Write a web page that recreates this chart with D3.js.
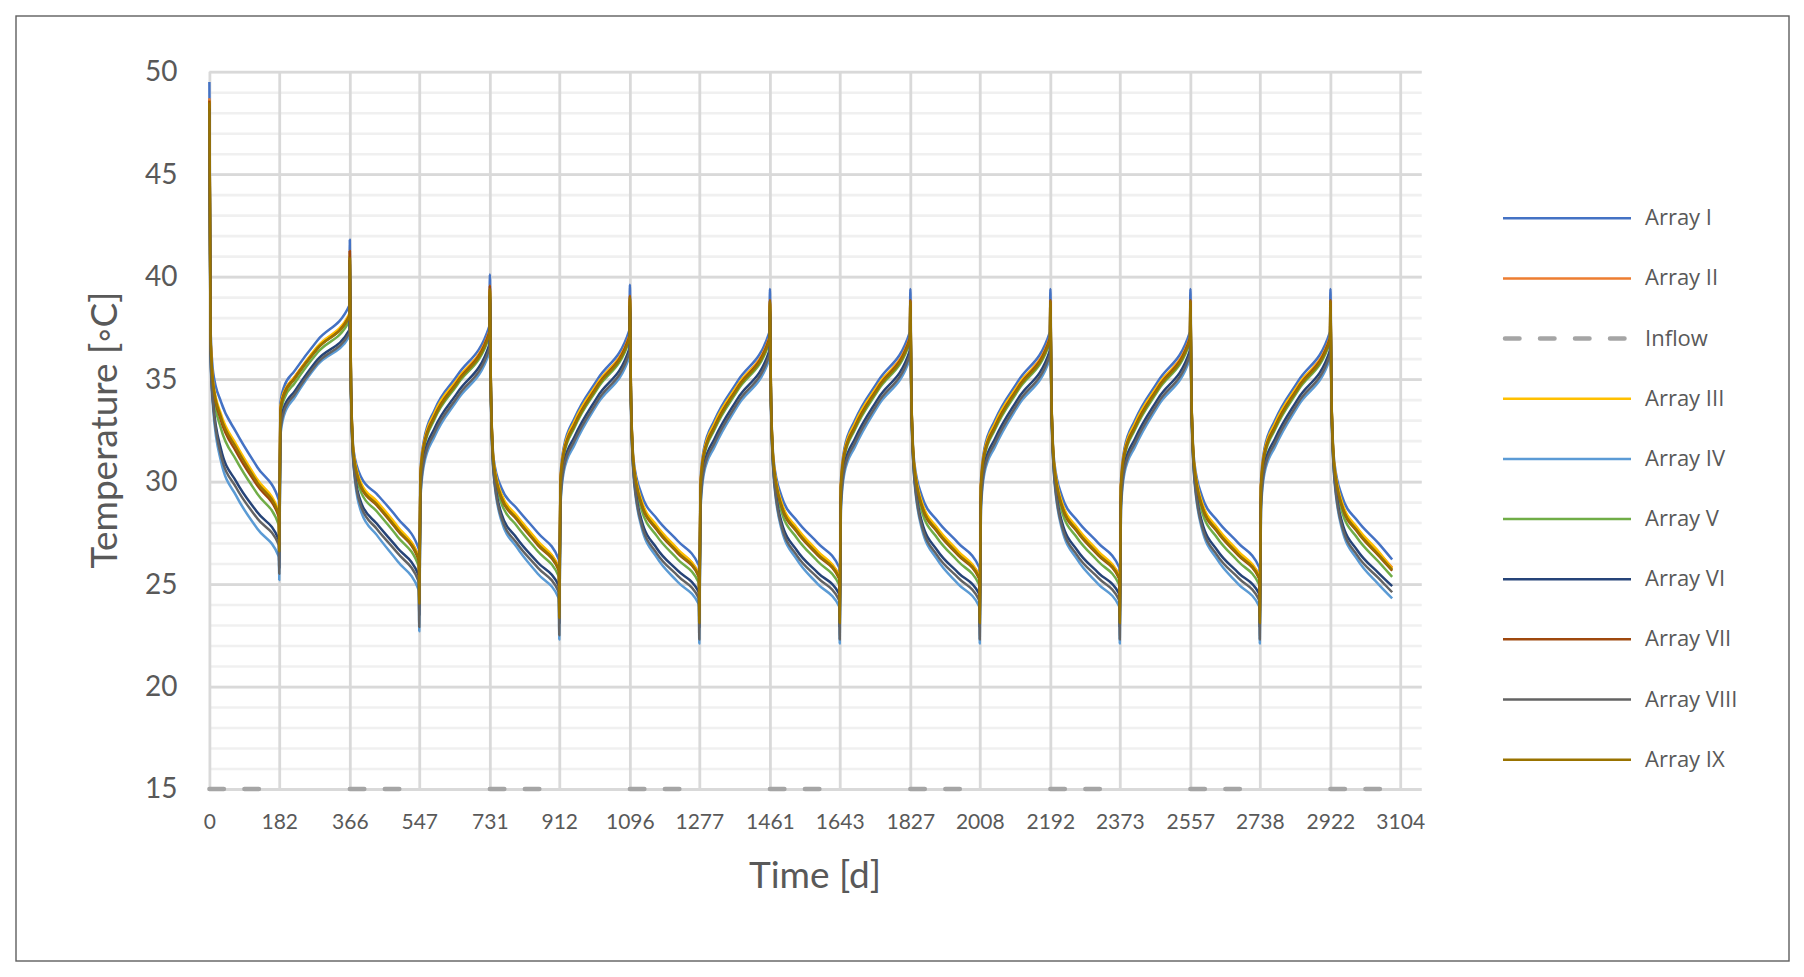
<!DOCTYPE html>
<html><head><meta charset="utf-8">
<script src="https://cdn.jsdelivr.net/npm/d3@7"></script>
<style>body{margin:0;background:#fff}</style>
</head><body><svg id="chart" width="1804" height="977"></svg>
<script>
// Day of each sample point (shared by all arrays)
const days = [0,3,10,30,70,125,181,
 182,185,194,222,282,365,
 366,369,376,396,436,491,546,
 547,550,559,587,647,730,
 731,734,741,761,801,856,911,
 912,915,924,952,1012,1095,
 1096,1099,1106,1126,1166,1221,1276,
 1277,1280,1289,1317,1377,1460,
 1461,1464,1471,1491,1531,1586,1642,
 1643,1646,1655,1683,1743,1826,
 1827,1830,1837,1857,1897,1952,2007,
 2008,2011,2020,2048,2108,2191,
 2192,2195,2202,2222,2262,2317,2372,
 2373,2376,2385,2413,2473,2556,
 2557,2560,2567,2587,2627,2682,2737,
 2738,2741,2750,2778,2838,2921,
 2922,2925,2932,2952,2992,3047,3083];

const arrayI = [49.5,37.5,35.3,33.9,32.4,30.7,29.1,
 27.5,33.8,34.6,35.4,36.9,38.6,
 41.8,34.8,31.5,30.2,29.4,28.2,26.7,
 24.6,30.5,32.0,33.5,35.2,37.6,
 40.1,34.3,31.1,29.7,28.7,27.5,26.2,
 24.2,30.2,31.7,33.1,35.0,37.4,
 39.6,34.1,31.0,29.4,28.2,27.1,25.9,
 24.0,30.0,31.6,33.0,34.9,37.3,
 39.4,34.0,31.0,29.3,28.1,27.0,25.8,
 24.0,30.0,31.6,33.0,34.9,37.3,
 39.4,34.0,31.0,29.3,28.1,27.0,25.8,
 24.0,30.0,31.6,33.0,34.9,37.3,
 39.4,34.0,31.0,29.3,28.1,27.0,25.8,
 24.0,30.0,31.6,33.0,34.9,37.3,
 39.4,34.0,31.0,29.3,28.1,27.0,25.8,
 24.0,30.0,31.6,33.0,34.9,37.3,
 39.4,34.0,31.0,29.3,28.1,27.0,26.2];

const arrayII = [48.7,37.1,34.7,33.2,31.7,30.0,28.45,
 27.1,33.5,34.3,35.1,36.55,38.15,
 41.25,34.7,31.3,29.85,29.0,27.75,26.3,
 24.3,30.3,31.8,33.3,35.0,37.35,
 39.55,34.2,30.9,29.35,28.3,27.05,25.8,
 23.9,30.0,31.5,32.9,34.8,37.15,
 39.05,34.0,30.8,29.05,27.8,26.65,25.5,
 23.7,29.8,31.4,32.8,34.7,37.05,
 38.85,33.9,30.8,28.95,27.7,26.55,25.4,
 23.7,29.8,31.4,32.8,34.7,37.05,
 38.85,33.9,30.8,28.95,27.7,26.55,25.4,
 23.7,29.8,31.4,32.8,34.7,37.05,
 38.85,33.9,30.8,28.95,27.7,26.55,25.4,
 23.7,29.8,31.4,32.8,34.7,37.05,
 38.85,33.9,30.8,28.95,27.7,26.55,25.4,
 23.7,29.8,31.4,32.8,34.7,37.05,
 38.85,33.9,30.8,28.95,27.7,26.55,25.8];

const arrayIII = [48.6,37.15,34.8,33.3,31.8,30.1,28.53,
 27.2,33.6,34.35,35.1,36.6,38.2,
 41.1,34.7,31.35,29.9,29.05,27.8,26.25,
 24.4,30.35,31.85,33.35,35.0,37.3,
 39.4,34.2,30.95,29.4,28.35,27.1,25.75,
 24.0,30.05,31.55,32.95,34.8,37.1,
 38.9,34.0,30.85,29.1,27.85,26.7,25.45,
 23.8,29.85,31.45,32.85,34.7,37.0,
 38.7,33.9,30.85,29.0,27.75,26.6,25.35,
 23.8,29.85,31.45,32.85,34.7,37.0,
 38.7,33.9,30.85,29.0,27.75,26.6,25.35,
 23.8,29.85,31.45,32.85,34.7,37.0,
 38.7,33.9,30.85,29.0,27.75,26.6,25.35,
 23.8,29.85,31.45,32.85,34.7,37.0,
 38.7,33.9,30.85,29.0,27.75,26.6,25.35,
 23.8,29.85,31.45,32.85,34.7,37.0,
 38.7,33.9,30.85,29.0,27.75,26.6,25.75];

const arrayIV = [48.0,36.0,33.5,31.0,29.3,27.7,26.33,
 25.2,32.2,33.2,34.1,35.7,37.1,
 40.4,34.4,30.7,28.5,27.4,26.1,24.7,
 22.7,29.1,30.8,32.2,34.0,36.3,
 38.7,33.9,30.3,28.1,26.8,25.5,24.3,
 22.3,28.8,30.5,31.8,33.8,36.1,
 38.2,33.7,30.2,27.8,26.3,25.1,24.0,
 22.1,28.6,30.4,31.7,33.7,36.0,
 38.0,33.6,30.2,27.7,26.2,25.0,23.9,
 22.1,28.6,30.4,31.7,33.7,36.0,
 38.0,33.6,30.2,27.7,26.2,25.0,23.9,
 22.1,28.6,30.4,31.7,33.7,36.0,
 38.0,33.6,30.2,27.7,26.2,25.0,23.9,
 22.1,28.6,30.4,31.7,33.7,36.0,
 38.0,33.6,30.2,27.7,26.2,25.0,23.9,
 22.1,28.6,30.4,31.7,33.7,36.0,
 38.0,33.6,30.2,27.7,26.2,25.0,24.3];

const arrayV = [48.4,36.8,34.3,32.6,31.05,29.4,27.88,
 26.6,33.2,34.0,34.8,36.3,37.85,
 41.0,34.6,31.1,29.45,28.55,27.3,25.85,
 24.0,30.1,31.6,33.05,34.75,37.1,
 39.3,34.1,30.7,28.95,27.85,26.6,25.35,
 23.6,29.8,31.3,32.65,34.55,36.9,
 38.8,33.9,30.6,28.65,27.35,26.2,25.05,
 23.4,29.6,31.2,32.55,34.45,36.8,
 38.6,33.8,30.6,28.55,27.25,26.1,24.95,
 23.4,29.6,31.2,32.55,34.45,36.8,
 38.6,33.8,30.6,28.55,27.25,26.1,24.95,
 23.4,29.6,31.2,32.55,34.45,36.8,
 38.6,33.8,30.6,28.55,27.25,26.1,24.95,
 23.4,29.6,31.2,32.55,34.45,36.8,
 38.6,33.8,30.6,28.55,27.25,26.1,24.95,
 23.4,29.6,31.2,32.55,34.45,36.8,
 38.6,33.8,30.6,28.55,27.25,26.1,25.35];

const arrayVI = [48.2,36.3,33.8,31.6,30.0,28.5,27.15,
 25.8,32.6,33.6,34.4,35.95,37.4,
 40.8,34.5,30.9,28.95,27.95,26.75,25.4,
 23.5,29.6,31.2,32.6,34.35,36.7,
 39.1,34.0,30.5,28.45,27.25,26.05,24.9,
 23.1,29.3,30.9,32.2,34.15,36.5,
 38.6,33.8,30.4,28.15,26.75,25.65,24.6,
 22.9,29.1,30.8,32.1,34.05,36.4,
 38.4,33.7,30.4,28.05,26.65,25.55,24.5,
 22.9,29.1,30.8,32.1,34.05,36.4,
 38.4,33.7,30.4,28.05,26.65,25.55,24.5,
 22.9,29.1,30.8,32.1,34.05,36.4,
 38.4,33.7,30.4,28.05,26.65,25.55,24.5,
 22.9,29.1,30.8,32.1,34.05,36.4,
 38.4,33.7,30.4,28.05,26.65,25.55,24.5,
 22.9,29.1,30.8,32.1,34.05,36.4,
 38.4,33.7,30.4,28.05,26.65,25.55,24.9];

const arrayVII = [48.6,37.0,34.6,33.0,31.45,29.8,28.28,
 26.9,33.45,34.25,35.05,36.5,38.1,
 41.25,34.65,31.2,29.7,28.85,27.6,26.15,
 24.2,30.25,31.75,33.2,34.9,37.3,
 39.55,34.15,30.8,29.2,28.15,26.9,25.65,
 23.8,29.95,31.45,32.8,34.7,37.1,
 39.05,33.95,30.7,28.9,27.65,26.5,25.35,
 23.6,29.75,31.35,32.7,34.6,37.0,
 38.85,33.85,30.7,28.8,27.55,26.4,25.25,
 23.6,29.75,31.35,32.7,34.6,37.0,
 38.85,33.85,30.7,28.8,27.55,26.4,25.25,
 23.6,29.75,31.35,32.7,34.6,37.0,
 38.85,33.85,30.7,28.8,27.55,26.4,25.25,
 23.6,29.75,31.35,32.7,34.6,37.0,
 38.85,33.85,30.7,28.8,27.55,26.4,25.25,
 23.6,29.75,31.35,32.7,34.6,37.0,
 38.85,33.85,30.7,28.8,27.55,26.4,25.65];

const arrayVIII = [48.1,36.2,33.7,31.3,29.7,28.2,26.9,
 25.5,32.4,33.4,34.25,35.8,37.25,
 40.6,34.45,30.8,28.75,27.7,26.5,25.1,
 22.9,29.3,31.0,32.4,34.15,36.5,
 38.9,33.95,30.4,28.25,27.0,25.8,24.6,
 22.5,29.0,30.7,32.0,33.95,36.3,
 38.4,33.75,30.3,27.95,26.5,25.4,24.3,
 22.3,28.8,30.6,31.9,33.85,36.2,
 38.2,33.65,30.3,27.85,26.4,25.3,24.2,
 22.3,28.8,30.6,31.9,33.85,36.2,
 38.2,33.65,30.3,27.85,26.4,25.3,24.2,
 22.3,28.8,30.6,31.9,33.85,36.2,
 38.2,33.65,30.3,27.85,26.4,25.3,24.2,
 22.3,28.8,30.6,31.9,33.85,36.2,
 38.2,33.65,30.3,27.85,26.4,25.3,24.2,
 22.3,28.8,30.6,31.9,33.85,36.2,
 38.2,33.65,30.3,27.85,26.4,25.3,24.6];

const arrayIX = [48.5,37.05,34.7,33.15,31.65,29.95,28.4,
 26.6,33.4,34.2,35.0,36.5,38.05,
 40.9,34.7,31.25,29.75,28.9,27.65,26.2,
 24.05,30.2,31.7,33.15,34.85,37.2,
 39.4,34.2,30.85,29.25,28.2,26.95,25.7,
 23.35,29.9,31.4,32.75,34.65,37.0,
 39.0,34.0,30.75,28.95,27.7,26.55,25.4,
 23.1,29.7,31.3,32.65,34.55,36.9,
 38.8,33.9,30.75,28.85,27.6,26.45,25.3,
 23.1,29.7,31.3,32.65,34.55,36.9,
 38.8,33.9,30.75,28.85,27.6,26.45,25.3,
 23.1,29.7,31.3,32.65,34.55,36.9,
 38.8,33.9,30.75,28.85,27.6,26.45,25.3,
 23.1,29.7,31.3,32.65,34.55,36.9,
 38.8,33.9,30.75,28.85,27.6,26.45,25.3,
 23.1,29.7,31.3,32.65,34.55,36.9,
 38.8,33.9,30.75,28.85,27.6,26.45,25.7];

// Inflow: 15 °C during the extraction half-years (start day, end day)
const inflowStart = [0,366,731,1096,1461,1827,2192,2557,2922];
const inflowEnd   = [182,547,912,1277,1643,2008,2373,2738,3083];
const inflowTemp  = 15;

const seriesNames  = ["Array I","Array II","Inflow","Array III","Array IV","Array V","Array VI","Array VII","Array VIII","Array IX"];
const seriesColors = ["#4472C4","#ED7D31","#A5A5A5","#FFC000","#5B9BD5","#70AD47","#264478","#9E480E","#636363","#997300"];

const xTickValues = [0,182,366,547,731,912,1096,1277,1461,1643,1827,2008,2192,2373,2557,2738,2922,3104];
const yTickValues = [15,20,25,30,35,40,45,50];
const yMinorValues = d3.range(15, 51, 1);

const svg = d3.select("#chart");
svg.append("rect").attr("x",0).attr("y",0).attr("width",1804).attr("height",977).attr("fill","#fff");
svg.append("rect").attr("x",16).attr("y",16).attr("width",1773).attr("height",945)
  .attr("fill","none").attr("stroke","#5f5f5f").attr("stroke-width",1.4);

const x = d3.scaleLinear().domain([0, 3160]).range([209.4, 1421.7]);
const y = d3.scaleLinear().domain([15, 50]).range([789, 71.7]);
const plotW = x.range()[1] - x.range()[0];
const plotH = y.range()[0] - y.range()[1];

// minor gridlines
const gMinor = svg.append("g").attr("transform", `translate(${x.range()[0]},0)`)
  .call(d3.axisLeft(y).tickValues(yMinorValues).tickSize(-plotW).tickFormat(""));
gMinor.select(".domain").remove();
gMinor.selectAll("line").attr("stroke","#f0f0f0").attr("stroke-width",2.6);

// major horizontal gridlines
const gMajor = svg.append("g").attr("transform", `translate(${x.range()[0]},0)`)
  .call(d3.axisLeft(y).tickValues(yTickValues).tickSize(-plotW).tickFormat(""));
gMajor.select(".domain").remove();
gMajor.selectAll("line").attr("stroke","#d9d9d9").attr("stroke-width",2.8);

// vertical gridlines
const gVert = svg.append("g").attr("transform", `translate(0,${y.range()[0]})`)
  .call(d3.axisBottom(x).tickValues(xTickValues).tickSize(-plotH).tickFormat(""));
gVert.select(".domain").remove();
gVert.selectAll("line").attr("stroke","#d9d9d9").attr("stroke-width",2.8);

// y tick labels
const gY = svg.append("g").attr("transform", `translate(${x.range()[0]},0)`)
  .call(d3.axisLeft(y).tickValues(yTickValues).tickSize(0).tickPadding(32).tickFormat(d3.format("d")));
gY.select(".domain").remove();
gY.selectAll("text").attr("font-family","Lato, 'Open Sans', sans-serif").attr("font-size",28).attr("fill","#595959");

// x tick labels
const gX = svg.append("g").attr("transform", `translate(0,${y.range()[0]})`)
  .call(d3.axisBottom(x).tickValues(xTickValues).tickSize(0).tickPadding(25).tickFormat(d3.format("d")));
gX.select(".domain").remove();
gX.selectAll("text").attr("font-family","Lato, 'Open Sans', sans-serif").attr("font-size",21).attr("fill","#595959");

// axis titles
svg.append("text").attr("transform","translate(117,430) rotate(-90)")
  .attr("text-anchor","middle").attr("font-family","Lato, 'Open Sans', sans-serif")
  .attr("font-size",37).attr("fill","#595959").text("Temperature [◦C]");
svg.append("text").attr("x",815).attr("y",888)
  .attr("text-anchor","middle").attr("font-family","Lato, 'Open Sans', sans-serif")
  .attr("font-size",37).attr("fill","#595959").text("Time [d]");

const line = d3.line().x(d => x(d[0])).y(d => y(d[1])).curve(d3.curveMonotoneX);
const seriesData = {
  "Array I": arrayI, "Array II": arrayII, "Array III": arrayIII, "Array IV": arrayIV,
  "Array V": arrayV, "Array VI": arrayVI, "Array VII": arrayVII, "Array VIII": arrayVIII, "Array IX": arrayIX
};

const plot = svg.append("g");
seriesNames.forEach((name, i) => {
  if (name === "Inflow") {
    inflowStart.forEach((s, k) => {
      plot.append("path")
        .attr("d", d3.line().x(d => x(d[0])).y(d => y(d[1]))([[s, inflowTemp],[inflowEnd[k], inflowTemp]]))
        .attr("fill","none").attr("stroke",seriesColors[i]).attr("stroke-width",4.5)
        .attr("stroke-linecap","round").attr("stroke-dasharray","14.5,20.5");
    });
  } else {
    const vals = seriesData[name];
    plot.append("path")
      .attr("d", line(days.map((d, k) => [d, vals[k]])))
      .attr("fill","none").attr("stroke",seriesColors[i]).attr("stroke-width",2.5)
      .attr("stroke-linejoin","round");
  }
});

// legend
const leg = svg.append("g");
seriesNames.forEach((name, i) => {
  const ly = 218.3 + i * 60.15;
  const l = leg.append("line").attr("x1",1503).attr("x2",1631).attr("y1",ly).attr("y2",ly)
    .attr("stroke",seriesColors[i]);
  if (name === "Inflow") {
    l.attr("stroke-width",4.5).attr("stroke-linecap","round").attr("stroke-dasharray","14.5,20.5");
    l.attr("x1",1505).attr("x2",1629);
  } else {
    l.attr("stroke-width",2.5);
  }
  leg.append("text").attr("x",1645).attr("y",ly + 7)
    .attr("font-family","'Open Sans', sans-serif").attr("font-size",22).attr("fill","#595959")
    .text(name);
});
</script></body></html>
